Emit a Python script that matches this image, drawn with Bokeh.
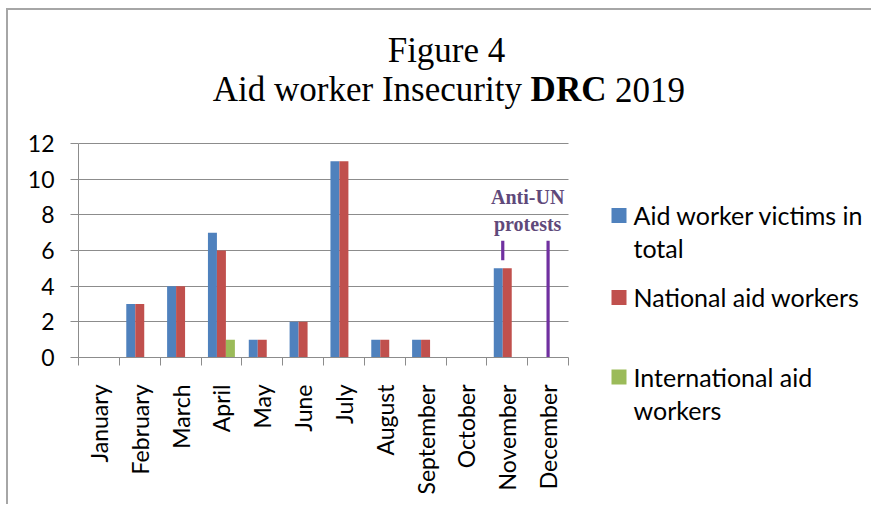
from math import pi

from bokeh.embed import file_html
from bokeh.resources import INLINE
from bokeh.plotting import figure
from bokeh.models import (ColumnDataSource, Range1d, FixedTicker, Label,
                          BoxAnnotation)
from bokeh.transform import dodge

# --- data -------------------------------------------------------------------
months = ["January", "February", "March", "April", "May", "June", "July",
          "August", "September", "October", "November", "December"]
total_victims = [0, 3, 4, 7, 1, 2, 11, 1, 1, 0, 5, 0]
national_workers = [0, 3, 4, 6, 1, 2, 11, 1, 1, 0, 5, 0]
international_workers = [0, 0, 0, 1, 0, 0, 0, 0, 0, 0, 0, 0]

# protest markers (November short mark, December full line)
protest_months = ["November", "December"]
protest_low = [5.45, 0.0]
protest_high = [6.55, 6.55]
protest_shift = [-0.11, 0.0]

y_ticks = [0, 2, 4, 6, 8, 10, 12]
Y_MAX = 12

series_names = [["Aid worker victims in", "total"],
                ["National aid workers"],
                ["International aid", "workers"]]

# --- styles -----------------------------------------------------------------
BLUE, RED, GREEN = "#4f81bd", "#c0504d", "#9bbb59"
PURPLE, PURPLE_TEXT = "#7030a0", "#5f497a"
GRID = "#8c8c8c"
SANS = "Lato"
SERIF = "Liberation Serif"
BAR_W = 0.22
LIFT = 0.35          # baseline correction for labels, as a fraction of size

# page geometry (pixels); the chart sits inside a thin border
PAGE_W, PAGE_H = 873, 506
OFF_X, OFF_Y = 8, 10                 # margin + border width
AX_LEFT, AX_RIGHT = 78, 568          # value axis / end of category axis
AX_ZERO, AX_TOP = 357, 143           # baseline / top gridline
LEG_LEFT, LEG_TOP = 600, 190         # legend panel origin

FIG_W, FIG_H = PAGE_W - OFF_X, PAGE_H - OFF_Y
frame_w = PAGE_W - AX_LEFT
frame_h = AX_ZERO - OFF_Y
x_end = len(months) * frame_w / (AX_RIGHT - AX_LEFT)
y_end = Y_MAX * frame_h / (AX_ZERO - AX_TOP)
px_per_unit = (AX_ZERO - AX_TOP) / Y_MAX


def sx(px):
    return px - AX_LEFT


def sy(py):
    return AX_ZERO - py


p = figure(width=FIG_W, height=FIG_H, output_backend="svg",
           toolbar_location=None,
           x_range=Range1d(0, x_end), y_range=Range1d(0, y_end),
           min_border_left=AX_LEFT - OFF_X, min_border_right=0,
           min_border_top=0, min_border_bottom=PAGE_H - AX_ZERO,
           styles={"margin-left": "6px", "margin-top": "8px",
                   "border-left": "2px solid #a6a6a6",
                   "border-top": "2px solid #a6a6a6"})
p.outline_line_color = None
p.background_fill_color = "white"
p.border_fill_color = "white"

# --- bars -------------------------------------------------------------------
xpos = [i + 0.5 for i in range(len(months))]
src = ColumnDataSource(dict(x=xpos, total=total_victims,
                            national=national_workers,
                            intl=international_workers))

p.vbar(x=dodge("x", -BAR_W, range=p.x_range), top="total", width=BAR_W,
       source=src, fill_color=BLUE, line_color=None)
p.vbar(x=dodge("x", 0.0, range=p.x_range), top="national", width=BAR_W,
       source=src, fill_color=RED, line_color=None)
p.vbar(x=dodge("x", BAR_W, range=p.x_range), top="intl", width=BAR_W,
       source=src, fill_color=GREEN, line_color=None)

px = [months.index(m) + 0.5 + s for m, s in zip(protest_months, protest_shift)]
p.segment(x0=px, x1=px, y0=protest_low, y1=protest_high,
          line_color=PURPLE, line_width=3.2)

NOTE_SIZE = 20
for txt, yy in (("Anti-UN", 8.61), ("protests", 7.12)):
    p.add_layout(Label(text=txt, x=11, y=yy + LIFT * NOTE_SIZE / px_per_unit,
                       text_font=SERIF, text_font_size=f"{NOTE_SIZE}px",
                       text_font_style="bold", text_color=PURPLE_TEXT,
                       text_align="center", text_baseline="alphabetic"))

# --- axes and grid ----------------------------------------------------------
xa = p.xaxis[0]
xa.bounds = (0, len(months))
xa.ticker = FixedTicker(ticks=xpos, minor_ticks=list(range(len(months) + 1)))
xa.major_label_overrides = {x: m for x, m in zip(xpos, months)}
xa.major_label_orientation = pi / 2
xa.major_tick_out = 0
xa.major_tick_in = 0
xa.minor_tick_out = 8
xa.minor_tick_in = 0
xa.minor_tick_line_color = GRID
xa.axis_line_color = GRID
xa.major_label_text_font = SANS
xa.major_label_text_font_size = "23px"
xa.major_label_text_color = "black"
xa.major_label_standoff = 19

ya = p.yaxis[0]
ya.bounds = (0, Y_MAX)
ya.ticker = FixedTicker(ticks=y_ticks)
ya.major_tick_out = 8
ya.major_tick_in = 0
ya.minor_tick_line_color = None
ya.major_tick_line_color = GRID
ya.axis_line_color = GRID
ya.major_label_text_font = SANS
ya.major_label_text_font_size = "23px"
ya.major_label_text_color = "black"
ya.major_label_standoff = 16

p.xgrid.grid_line_color = None
p.ygrid.grid_line_color = GRID
p.ygrid.grid_line_width = 1.2
p.ygrid.cross_bounds = (0, len(months))

# --- heading ----------------------------------------------------------------
HEAD_SIZE = 35


def head_label(text, x, y, align, bold=False):
    p.add_layout(Label(text=text, x=sx(x), y=sy(y - LIFT * HEAD_SIZE),
                       x_units="screen", y_units="screen", text_font=SERIF,
                       text_font_size=f"{HEAD_SIZE}px",
                       text_font_style="bold" if bold else "normal",
                       text_align=align, text_baseline="alphabetic",
                       text_color="black"))


head_label("Figure 4", 446, 62.7, "center")
head_label("Aid worker Insecurity", 521.4, 101.7, "right")
head_label("DRC", 530.1, 101.7, "left", bold=True)
head_label("2019", 614.6, 101.7, "left")

# --- legend panel (transparent, laid over the right side of the chart) ------
leg = figure(width=PAGE_W - LEG_LEFT, height=PAGE_H - LEG_TOP, title=None,
             output_backend="svg", toolbar_location=None,
             x_range=Range1d(LEG_LEFT, PAGE_W),
             y_range=Range1d(PAGE_H, LEG_TOP),
             x_axis_type=None, y_axis_type=None, min_border=0,
             styles={"position": "absolute", "left": f"{LEG_LEFT}px",
                     "top": f"{LEG_TOP}px"})
leg.outline_line_color = None
leg.background_fill_alpha = 0
leg.border_fill_alpha = 0

KEY = 15
LEG_SIZE = 25
key_left, text_left = 611, 633
key_tops = [207.5, 289.5, 369]
key_colors = [BLUE, RED, GREEN]
for top, color, lines in zip(key_tops, key_colors, series_names):
    leg.add_layout(BoxAnnotation(left=key_left, right=key_left + KEY,
                                 top=top, bottom=top + KEY,
                                 fill_color=color, fill_alpha=1.0,
                                 line_color=None))
    for k, line in enumerate(lines):
        base = top + 16 + 33 * k
        leg.add_layout(Label(text=line, x=text_left,
                             y=base - LIFT * LEG_SIZE,
                             text_font=SANS, text_font_size=f"{LEG_SIZE}px",
                             text_color="black", text_align="left",
                             text_baseline="alphabetic"))

open("out.html", "w").write(file_html([p, leg], INLINE))
